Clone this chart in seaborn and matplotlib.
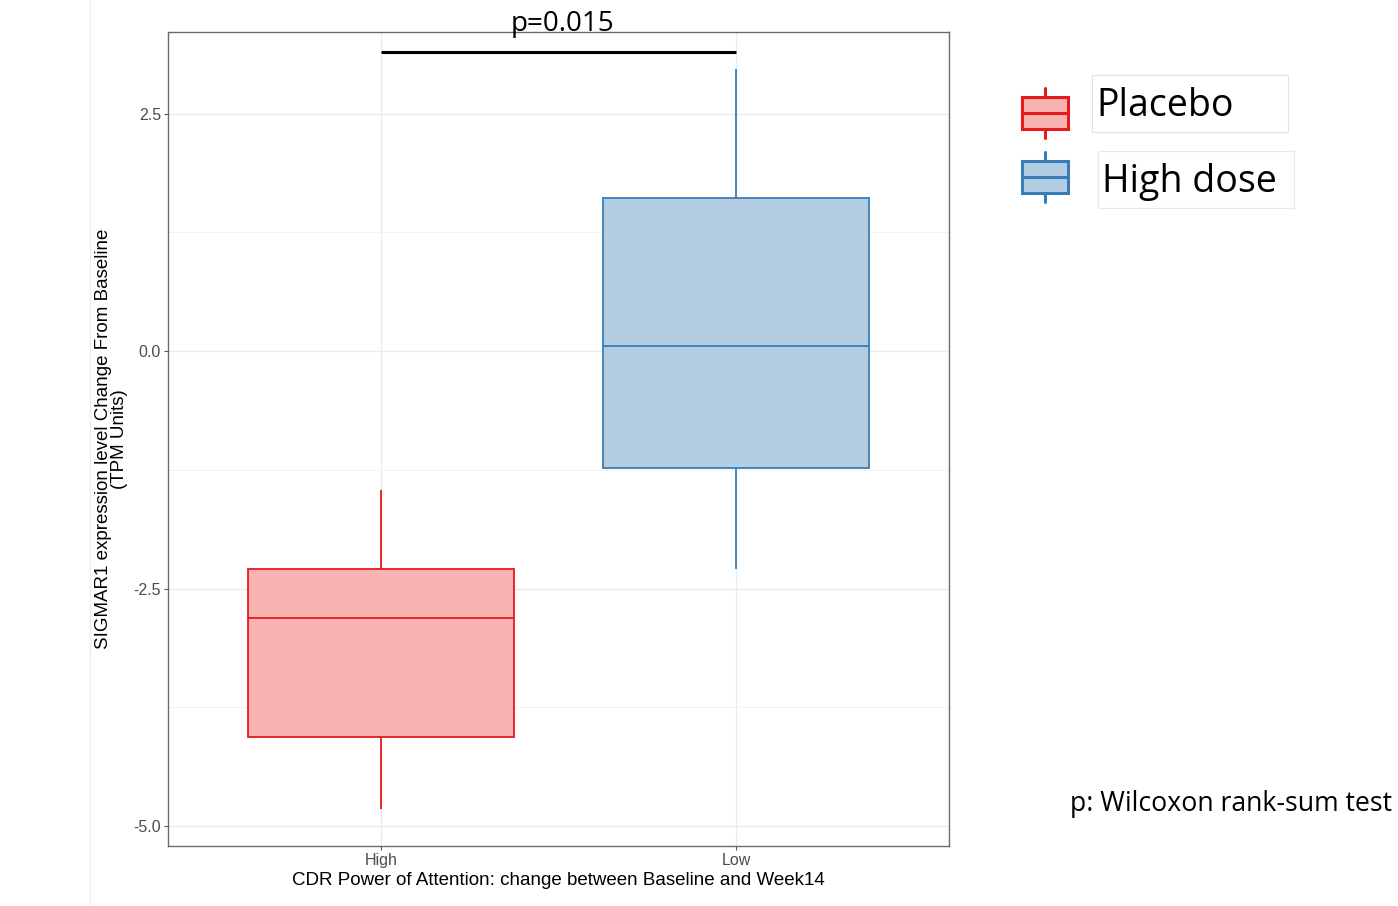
import numpy as np
import pandas as pd
import matplotlib
matplotlib.use("Agg")
import matplotlib.pyplot as plt
from matplotlib.patches import Rectangle
import seaborn as sns

# Five-number summaries per response group: whisker low, Q1, median, Q3, whisker high
categories = ["High", "Low"]
high_values = [-4.82, -4.06, -2.81, -2.29, -1.46]
low_values = [-2.29, -1.23, 0.05, 1.61, 2.97]
group_labels = ["Placebo", "High dose"]
y_ticks = [-5.0, -2.5, 0.0, 2.5]
p_value = 0.015
sig_bar_y = 3.15

fills = ["#F8B4B0", "#B3CDE3"]
edges = ["#E41A1C", "#377EB8"]

df = pd.DataFrame({
    "group": ["High"] * len(high_values) + ["Low"] * len(low_values),
    "value": high_values + low_values,
})

sns.set_style("white")
plt.rcParams["font.family"] = ["Liberation Sans", "DejaVu Sans"]
plt.rcParams["text.color"] = "black"

fig = plt.figure(figsize=(13.98, 9.06), dpi=100)
ax = fig.add_axes([168 / 1398, 1 - 846 / 906, (949 - 168) / 1398, (846 - 32) / 906])

for cat, fc, ec in zip(categories, fills, edges):
    sns.boxplot(data=df[df["group"] == cat], x="group", y="value", order=categories,
                color=fc, linecolor=ec, saturation=1, width=0.75, whis=np.inf,
                linewidth=1.3, showcaps=False, ax=ax)

ax.set_xlim(-0.6, 1.6)
ax.set_ylim(-5.21, 3.358)
ax.set_yticks(y_ticks)
ax.set_yticklabels([f"{t:.1f}" for t in y_ticks])
ax.set_yticks([-3.75, -1.25, 1.25], minor=True)
ax.grid(True, which="major", color="#EBEBEB", lw=1.0)
ax.grid(True, which="minor", axis="y", color="#F2F2F2", lw=0.7)
ax.set_axisbelow(True)
for s in ax.spines.values():
    s.set_color("#6B6B6B")
    s.set_linewidth(1.0)
ax.tick_params(axis="both", which="major", length=3, width=0.8, color="#555555",
               labelcolor="#4D4D4D", labelsize=11.5, pad=2, left=True, bottom=True)
ax.tick_params(axis="y", which="minor", length=0)

ax.set_xlabel("CDR Power of Attention: change between Baseline and Week14",
              fontsize=13.5, color="black", labelpad=3)
ax.set_ylabel("SIGMAR1 expression level Change From Baseline\n(TPM Units)",
              fontsize=13.5, color="black", labelpad=4, linespacing=0.95)

# Significance bracket between the two groups
ax.plot([0, 1], [sig_bar_y, sig_bar_y], color="black", lw=2.2, solid_capstyle="butt")
ax.text(0.51, 3.44, f"p={p_value}", ha="center", va="center", fontsize=20,
        color="black", family=["Open Sans", "DejaVu Sans"], clip_on=False)

# Faint edge of the panel region, kept behind everything
fig.add_artist(plt.Line2D([90 / 1398, 90 / 1398], [0, 1], color="#EEEEEE", lw=1, zorder=-5))

# Legend with box glyphs
leg_ax = fig.add_axes([0, 0, 1, 1], facecolor="none")
leg_ax.set_xlim(0, 1398)
leg_ax.set_ylim(906, 0)
leg_ax.axis("off")
for (label, fc, ec, yc, ty, tx) in [(group_labels[0], fills[0], edges[0], 113, 106, 1096),
                                    (group_labels[1], fills[1], edges[1], 177, 182, 1102)]:
    leg_ax.add_patch(Rectangle((1022, yc - 16), 46, 32, facecolor=fc, edgecolor=ec, lw=2.2))
    leg_ax.plot([1022, 1068], [yc, yc], color=ec, lw=2.2)
    leg_ax.plot([1045, 1045], [yc - 25, yc - 16], color=ec, lw=2.2)
    leg_ax.plot([1045, 1045], [yc + 16, yc + 25], color=ec, lw=2.2)
    leg_ax.text(tx, ty, label, ha="left", va="center", fontsize=27, color="black",
                family=["Open Sans", "DejaVu Sans"])
leg_ax.add_patch(Rectangle((1092, 75), 196, 57, facecolor="none", edgecolor="#E0E0E0", lw=0.8))
leg_ax.add_patch(Rectangle((1098, 151), 196, 57, facecolor="none", edgecolor="#E8E8E8", lw=0.8))

fig.text(1070 / 1398, 1 - 804 / 906, "p: Wilcoxon rank-sum test", ha="left", va="center",
         fontsize=19.2, color="black", family=["Open Sans", "DejaVu Sans"])

fig.savefig("out.png", dpi=100, facecolor="white")
